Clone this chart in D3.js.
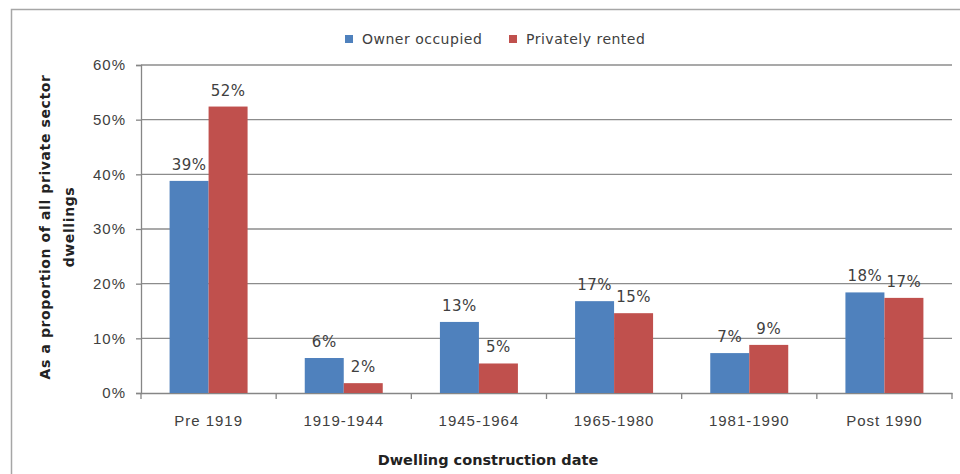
<!DOCTYPE html>
<html>
<head>
<meta charset="utf-8">
<script src="https://cdn.jsdelivr.net/npm/d3@7"></script>
<style>
  body { margin: 0; background: #fff; }
  svg { font-family: "DejaVu Sans", sans-serif; }
</style>
</head>
<body>
<div id="chart"></div>
<script>
// Data
const categories = ['Pre 1919', '1919-1944', '1945-1964', '1965-1980', '1981-1990', 'Post 1990'];
const seriesNames = ['Owner occupied', 'Privately rented'];
const ownerOccupied = [38.8, 6.4, 13.0, 16.8, 7.3, 18.4];
const privatelyRented = [52.4, 1.8, 5.4, 14.6, 8.8, 17.4];
const yTicks = [0, 10, 20, 30, 40, 50, 60];
const colors = ['#4f81bd', '#c0504d'];

const width = 960, height = 474;
const margin = { top: 65, right: 8, bottom: 81, left: 141 };
const innerW = width - margin.left - margin.right;
const innerH = height - margin.top - margin.bottom;

const svg = d3.select('#chart').append('svg')
    .attr('width', width)
    .attr('height', height);

// outer chart border
svg.append('rect')
    .attr('x', 11.5).attr('y', 9.5)
    .attr('width', 960).attr('height', 480)
    .attr('fill', 'none')
    .attr('stroke', '#a6a6a6')
    .attr('stroke-width', 1.5);

const g = svg.append('g').attr('transform', `translate(${margin.left},${margin.top})`);

const x = d3.scaleBand()
    .domain(categories)
    .range([0, innerW])
    .paddingInner(0.423)
    .paddingOuter(0.2115);

const xSub = d3.scaleBand()
    .domain(seriesNames)
    .range([0, x.bandwidth()]);

const y = d3.scaleLinear().domain([0, 60]).range([innerH, 0]);

// gridlines
g.selectAll('.grid')
    .data(yTicks.filter(d => d > 0))
    .enter().append('line')
    .attr('x1', 0).attr('x2', innerW)
    .attr('y1', d => y(d)).attr('y2', d => y(d))
    .attr('stroke', '#8c8c8c')
    .attr('stroke-width', 1.3);

// y axis
const yAxis = g.append('g')
    .call(d3.axisLeft(y).tickValues(yTicks).tickFormat(d => d + '%').tickSize(5).tickPadding(10));
yAxis.select('.domain').attr('stroke', '#868686').attr('stroke-width', 1.3);
yAxis.selectAll('.tick line').attr('stroke', '#868686').attr('stroke-width', 1.3);
yAxis.selectAll('text').attr('fill', '#404040')
    .style('font-size', '15px').style('letter-spacing', '1px');

// x axis
const step = x.step();
const xAxis = g.append('g')
    .attr('transform', `translate(0,${innerH})`)
    .call(d3.axisBottom(x).tickSize(0).tickPadding(22));
xAxis.select('.domain').attr('stroke', '#868686').attr('stroke-width', 1.3);
xAxis.selectAll('text').attr('fill', '#404040')
    .style('font-size', '15px').style('letter-spacing', '1px');
xAxis.selectAll('.sep')
    .data(d3.range(categories.length + 1))
    .enter().append('line')
    .attr('x1', i => i * step).attr('x2', i => i * step)
    .attr('y1', 0).attr('y2', 6)
    .attr('stroke', '#868686')
    .attr('stroke-width', 1.3);

// bars
const rows = categories.map((c, i) => ({ category: c, values: [ownerOccupied[i], privatelyRented[i]] }));

const groups = g.selectAll('.group')
    .data(rows)
    .enter().append('g')
    .attr('transform', d => `translate(${x(d.category)},0)`);

groups.selectAll('rect')
    .data(d => d.values.map((v, j) => ({ series: seriesNames[j], value: v, j })))
    .enter().append('rect')
    .attr('x', d => xSub(d.series))
    .attr('width', xSub.bandwidth())
    .attr('y', d => y(d.value))
    .attr('height', d => innerH - y(d.value))
    .attr('fill', d => colors[d.j]);

groups.selectAll('.lbl')
    .data(d => d.values.map((v, j) => ({ series: seriesNames[j], value: v })))
    .enter().append('text')
    .attr('x', d => xSub(d.series) + xSub.bandwidth() / 2)
    .attr('y', d => y(d.value) - 11)
    .attr('text-anchor', 'middle')
    .attr('fill', '#404040')
    .style('font-size', '15px')
    .style('letter-spacing', '0.5px')
    .text(d => Math.round(d.value) + '%');

// legend
const legend = svg.append('g').attr('transform', 'translate(345,39)');
const legendX = [0, 164];
seriesNames.forEach((name, i) => {
    legend.append('rect')
        .attr('x', legendX[i]).attr('y', -4)
        .attr('width', 8).attr('height', 8)
        .attr('fill', colors[i]);
    legend.append('text')
        .attr('x', legendX[i] + 17).attr('y', 5)
        .attr('fill', '#404040')
        .style('font-size', '14px')
        .style('letter-spacing', '0.5px')
        .text(name);
});

// axis titles
svg.append('text')
    .attr('x', 488).attr('y', 465)
    .attr('text-anchor', 'middle')
    .attr('fill', '#222')
    .style('font-size', '14.5px')
    .style('font-weight', 'bold')
    .text('Dwelling construction date');

const yTitle = svg.append('text')
    .attr('transform', 'translate(50,227) rotate(-90)')
    .attr('text-anchor', 'middle')
    .attr('fill', '#222')
    .style('font-size', '14px')
    .style('font-weight', 'bold')
    .style('letter-spacing', '0.6px');
yTitle.append('tspan').attr('x', 0).attr('dy', 0).text('As a proportion of all private sector');
yTitle.append('tspan').attr('x', 0).attr('dy', 24).text('dwellings');
</script>
</body>
</html>
